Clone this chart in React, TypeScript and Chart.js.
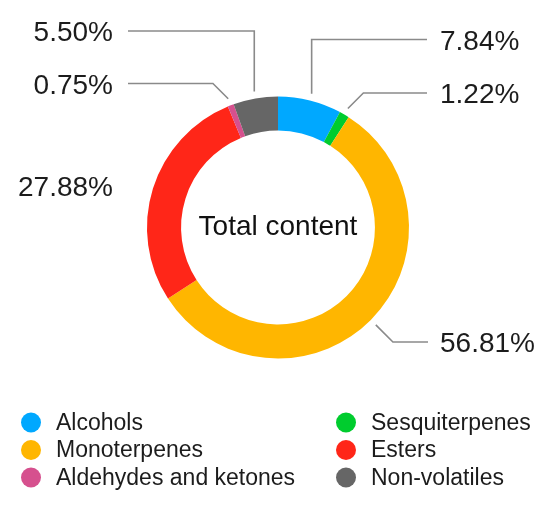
import React, { useEffect, useRef } from "react";
import { Chart, registerables } from "chart.js";

Chart.register(...registerables);

const categories = [
  "Alcohols",
  "Sesquiterpenes",
  "Monoterpenes",
  "Esters",
  "Aldehydes and ketones",
  "Non-volatiles",
];
const shares = [7.84, 1.22, 56.81, 27.88, 0.75, 5.5];
const colors = ["#00A8FF", "#00CC2E", "#FFB600", "#FF2618", "#D6508E", "#666666"];
const centerTitle = "Total content";

// Label placement (layout only)
const labelLayout = [
  { side: "right", kind: "vertical", lineY: 39.5, endX: 427, textY: 42 },
  { side: "right", kind: "diagonal", lineY: 93, endX: 427, textY: 95.5 },
  { side: "right", kind: "diagonal", lineY: 342, endX: 428, textY: 344 },
  { side: "left", kind: "none", lineY: 0, endX: 0, textY: 188 },
  { side: "left", kind: "diagonal", lineY: 83.5, endX: 128, textY: 86 },
  { side: "left", kind: "vertical", lineY: 31, endX: 128, textY: 33 },
];
// legend grid order (row-major, 2 columns)
const legendOrder = [0, 1, 2, 3, 4, 5];

const FONT = "'Liberation Sans', Arial, Helvetica, sans-serif";

const overlayPlugin = {
  id: "overlay",
  afterDatasetsDraw(chart: any) {
    const ctx = chart.ctx;
    const meta = chart.getDatasetMeta(0);
    ctx.save();
    // leader lines & labels
    meta.data.forEach((arc: any, i: number) => {
      const p = arc.getProps(["x", "y", "startAngle", "endAngle", "outerRadius"], true);
      const L = labelLayout[i];
      const mid = (p.startAngle + p.endAngle) / 2;
      const r = p.outerRadius + 7;
      const sx = p.x + Math.cos(mid) * r;
      const sy = p.y + Math.sin(mid) * r;
      const dir = L.side === "right" ? 1 : -1;
      if (L.kind !== "none") {
        let ex = sx;
        if (L.kind === "diagonal") ex = sx + dir * Math.abs(L.lineY - sy);
        ctx.beginPath();
        ctx.strokeStyle = "#8a8a8a";
        ctx.lineWidth = 1.6;
        ctx.moveTo(sx, sy);
        ctx.lineTo(ex, L.lineY);
        ctx.lineTo(L.endX, L.lineY);
        ctx.stroke();
      }
      ctx.font = `28px ${FONT}`;
      ctx.fillStyle = "#1c1c1c";
      ctx.textBaseline = "middle";
      const txt = shares[i].toFixed(2) + "%";
      if (L.side === "right") {
        ctx.textAlign = "left";
        ctx.fillText(txt, 440, L.textY);
      } else {
        ctx.textAlign = "right";
        ctx.fillText(txt, 113, L.textY);
      }
    });
    // center text
    const a0 = meta.data[0];
    ctx.font = `28px ${FONT}`;
    ctx.fillStyle = "#111";
    ctx.textAlign = "center";
    ctx.textBaseline = "middle";
    ctx.fillText(centerTitle, a0.x, a0.y);

    // legend
    ctx.font = `23px ${FONT}`;
    legendOrder.forEach((idx, k) => {
      const col = k % 2;
      const row = Math.floor(k / 2);
      const cx = col === 0 ? 31 : 346;
      const cy = 422.5 + row * 27.5;
      ctx.beginPath();
      ctx.fillStyle = colors[idx];
      ctx.arc(cx, cy, 10, 0, Math.PI * 2);
      ctx.fill();
      ctx.fillStyle = "#1c1c1c";
      ctx.textAlign = "left";
      ctx.textBaseline = "middle";
      ctx.fillText(categories[idx], cx + 25, cy + 1);
    });
    ctx.restore();
  },
};

export default function App() {
  const ref = useRef<HTMLCanvasElement>(null);
  useEffect(() => {
    document.body.style.margin = "0";
    const chart = new Chart(ref.current as HTMLCanvasElement, {
      type: "doughnut",
      data: {
        labels: categories,
        datasets: [
          {
            data: shares,
            backgroundColor: colors,
            borderWidth: 0,
            hoverOffset: 0,
          },
        ],
      },
      options: {
        responsive: false,
        animation: false,
        cutout: "74%",
        layout: { padding: { left: 147, right: 141, top: 96.5, bottom: 150.5 } },
        plugins: { legend: { display: false }, tooltip: { enabled: false } },
      },
      plugins: [overlayPlugin],
    });
    return () => chart.destroy();
  }, []);
  return (
    <div style={{ width: 550, height: 509, background: "#fff" }}>
      <canvas ref={ref} width={550} height={509} style={{ display: "block" }} />
    </div>
  );
}
